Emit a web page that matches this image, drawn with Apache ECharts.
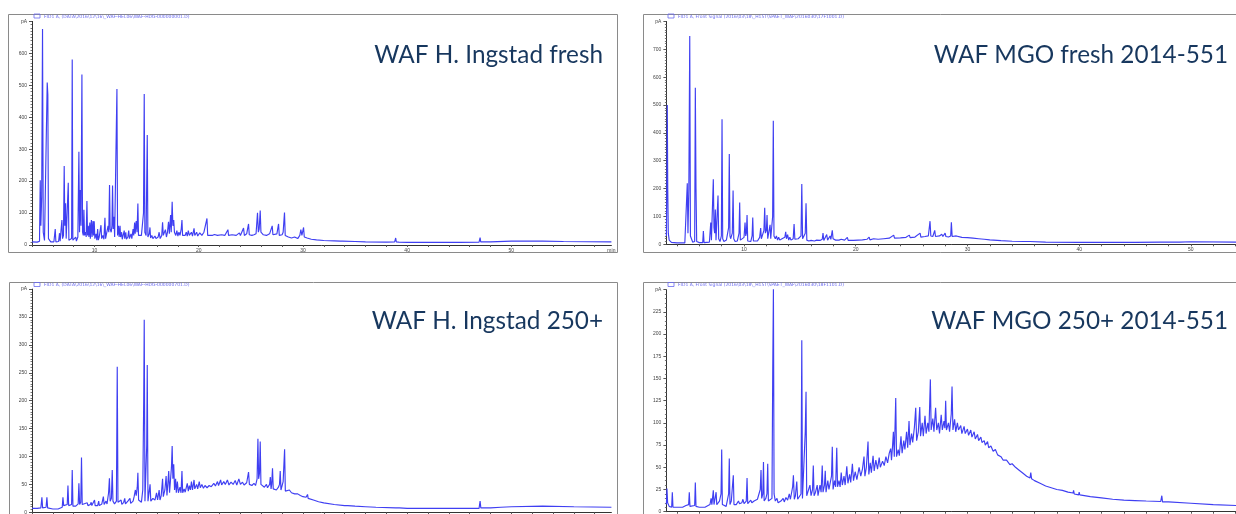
<!DOCTYPE html>
<html><head><meta charset="utf-8">
<script src="https://cdn.jsdelivr.net/npm/echarts@6/dist/echarts.min.js"></script>
<style>html,body{margin:0;padding:0;background:#fff}#c{width:1236px;height:514px}</style>
</head><body><div id="c"></div>
<script>
const titles = ['WAF H. Ingstad fresh','WAF MGO fresh 2014-551','WAF H. Ingstad 250+','WAF MGO 250+ 2014-551'];
const legends = [
  'FID1 A, (DATA\\2016\\12\\16\\_WAF-HEL06\\WAF-HDG-000000001.D)',
  'FID1 A, Front Signal (2016\\03\\18\\_H15T\\SPAET_WAF\\2016030\\17F1001.D)',
  'FID1 A, (DATA\\2016\\12\\16\\_WAF-HEL06\\WAF-HDG-000000701.D)',
  'FID1 A, Front Signal (2016\\03\\18\\_H15T\\SPAET_WAF\\2016030\\18F1101.D)'
];
const xLabelValues = [10,20,30,40,50];
const xTickValues = [4,6,8,10,12,14,16,18,20,22,24,26,28,30,32,34,36,38,40,42,44,46,48,50,52,54,56,58];
const xRanges = [[4,59.6],[3.05,54.04],[4,59.6],[3.05,54.04]];
const yMaxes = [700,800,400,250];
const yIntervals = [100,100,50,25];

const p1 = [[4.0,10],[4.5,9],[4.72,12],[4.79,203],[4.85,60],[4.93,150],[5.01,676],[5.08,40],[5.2,14],[5.38,20],[5.46,509],[5.52,470],[5.58,20],[5.8,10],[6.1,10],[6.17,12],[6.23,50],[6.29,10],[6.55,11],[6.64,37],[6.7,12],[6.8,16],[6.87,78],[6.93,20],[7.02,30],[7.09,247],[7.15,60],[7.22,131],[7.28,20],[7.4,25],[7.48,195],[7.54,15],[7.7,12],[7.8,20],[7.86,581],[7.92,15],[8.1,14],[8.2,25],[8.26,12],[8.4,25],[8.5,292],[8.56,40],[8.63,172],[8.7,60],[8.79,534],[8.85,40],[8.92,30],[8.98,110],[9.04,30],[9.15,40],[9.2,25],[9.27,138],[9.33,30],[9.4,60],[9.46,25],[9.55,70],[9.6,20],[9.7,78],[9.76,25],[9.85,75],[9.9,30],[9.97,74],[10.03,20],[10.15,35],[10.22,15],[10.3,50],[10.36,15],[10.45,25],[10.55,20],[10.62,62],[10.68,20],[10.8,30],[10.9,18],[11.0,85],[11.06,20],[11.15,35],[11.22,30],[11.3,60],[11.37,40],[11.44,188],[11.5,50],[11.6,40],[11.67,60],[11.73,186],[11.79,50],[11.87,88],[11.93,25],[12.03,30],[12.15,488],[12.21,30],[12.3,60],[12.36,25],[12.45,60],[12.5,25],[12.6,40],[12.66,18],[12.75,20],[12.85,45],[12.9,20],[13.0,40],[13.06,18],[13.2,25],[13.28,45],[13.35,20],[13.5,35],[13.58,20],[13.7,50],[13.76,30],[13.85,70],[13.9,35],[14.0,75],[14.08,40],[14.16,130],[14.22,30],[14.35,25],[14.5,30],[14.62,25],[14.7,100],[14.77,473],[14.83,40],[14.95,30],[15.06,344],[15.12,25],[15.25,35],[15.32,55],[15.38,22],[15.5,30],[15.6,20],[15.8,28],[15.9,20],[16.1,25],[16.2,40],[16.3,20],[16.45,30],[16.53,71],[16.6,30],[16.7,25],[16.8,48],[16.9,25],[17.0,40],[17.1,73],[17.18,35],[17.3,94],[17.36,40],[17.45,135],[17.52,60],[17.6,78],[17.67,40],[17.8,30],[17.9,45],[18.0,28],[18.1,40],[18.2,30],[18.32,50],[18.39,78],[18.45,30],[18.6,35],[18.7,30],[18.8,40],[18.9,28],[19.0,45],[19.1,30],[19.3,40],[19.4,28],[19.55,52],[19.62,30],[19.8,40],[19.9,28],[20.1,38],[20.3,30],[20.5,40],[20.6,45],[20.79,83],[20.86,30],[21.0,35],[21.3,30],[21.5,33],[21.8,30],[22.2,32],[22.5,30],[22.8,48],[22.86,30],[23.2,32],[23.6,30],[23.9,38],[24.0,30],[24.3,53],[24.38,30],[24.6,35],[24.78,66],[24.85,32],[25.1,30],[25.3,32],[25.5,35],[25.64,101],[25.72,40],[25.8,50],[25.9,108],[25.97,40],[26.2,32],[26.5,30],[26.8,35],[27.05,60],[27.12,32],[27.3,30],[27.5,35],[27.66,66],[27.73,30],[28.0,32],[28.1,40],[28.23,102],[28.3,30],[28.6,25],[28.9,22],[29.2,25],[29.5,20],[29.7,30],[29.8,48],[29.9,30],[30.06,55],[30.13,25],[30.4,22],[30.8,18],[31.3,16],[32.0,14],[33.0,13],[33.6,12],[33.7,15],[33.8,12],[35.0,11],[36.0,10],[38.0,9],[38.8,10],[38.9,22],[38.96,10],[39.2,9],[39.3,14],[39.36,9],[40,8],[45,8],[46.9,9],[47.0,23],[47.06,10],[48,10],[50,12],[53,12],[55,11],[59.6,10]];

const p2 = [[3.05,30],[3.09,210],[3.13,500],[3.17,200],[3.22,40],[3.3,15],[3.5,7],[4.0,5],[4.7,5],[4.85,10],[4.92,219],[4.98,40],[5.06,200],[5.14,748],[5.2,30],[5.4,8],[5.58,10],[5.64,562],[5.7,200],[5.76,10],[6.0,6],[6.3,6],[6.36,48],[6.42,6],[6.9,8],[6.96,15],[7.02,78],[7.08,15],[7.19,20],[7.25,233],[7.31,60],[7.37,40],[7.43,125],[7.49,15],[7.6,20],[7.67,175],[7.73,20],[7.85,10],[7.97,30],[8.03,449],[8.09,20],[8.2,10],[8.3,8],[8.42,15],[8.48,20],[8.56,15],[8.62,60],[8.68,324],[8.74,30],[8.8,20],[8.95,40],[9.02,193],[9.08,20],[9.2,10],[9.3,12],[9.4,12],[9.5,30],[9.55,40],[9.61,150],[9.67,15],[9.8,10],[10.0,25],[10.09,78],[10.15,30],[10.21,40],[10.27,105],[10.33,12],[10.5,10],[10.6,10],[10.72,30],[10.78,96],[10.84,12],[11.0,14],[11.2,12],[11.4,25],[11.49,58],[11.55,20],[11.65,20],[11.78,50],[11.85,131],[11.91,40],[12.0,50],[12.06,105],[12.12,20],[12.27,25],[12.33,70],[12.39,20],[12.5,20],[12.56,100],[12.62,443],[12.68,30],[12.8,20],[12.9,30],[13.0,15],[13.1,25],[13.2,15],[13.4,20],[13.5,15],[13.65,25],[13.73,45],[13.8,20],[13.9,35],[14.0,15],[14.1,25],[14.2,15],[14.4,20],[14.48,73],[14.55,18],[14.7,15],[14.85,20],[14.95,15],[15.1,30],[15.17,216],[15.24,20],[15.4,20],[15.48,40],[15.55,147],[15.62,15],[15.8,12],[16.0,14],[16.3,12],[16.5,15],[16.6,12],[16.8,14],[17.0,18],[17.07,40],[17.14,14],[17.3,20],[17.4,35],[17.48,15],[17.6,18],[17.7,30],[17.77,18],[17.9,50],[17.97,20],[18.1,25],[18.2,15],[18.5,15],[18.7,18],[18.8,14],[19.0,15],[19.25,25],[19.32,14],[19.8,14],[20.2,15],[20.6,16],[21.0,18],[21.2,26],[21.27,16],[21.6,20],[22.0,18],[22.5,20],[23.0,22],[23.4,33],[23.47,22],[24.0,23],[24.5,25],[24.8,33],[24.87,24],[25.3,26],[25.76,40],[25.83,26],[26.2,28],[26.5,30],[26.65,83],[26.72,30],[26.9,28],[27.07,50],[27.14,28],[27.5,30],[27.7,36],[27.8,28],[28.0,40],[28.07,28],[28.3,26],[28.5,30],[28.56,79],[28.63,28],[28.8,26],[29.0,30],[29.1,25],[29.5,25],[30.0,24],[30.5,22],[31.0,20],[31.5,18],[32.0,16],[33.0,13],[34.0,11],[35.0,10],[35.6,10],[35.7,14],[35.76,10],[37.0,8],[40.0,7],[45.0,7],[47.3,8],[47.4,15],[47.46,8],[49.0,8],[50.0,9],[54.04,8]];

const p3 = [[4.0,7],[4.5,7],[4.85,8],[4.95,27],[5.02,8],[5.2,8],[5.35,9],[5.43,27],[5.5,8],[6.0,6],[6.5,6],[6.9,9],[6.97,27],[7.04,12],[7.15,12],[7.38,14],[7.45,48],[7.52,12],[7.6,11],[7.8,14],[7.86,76],[7.93,11],[8.2,11],[8.43,15],[8.5,52],[8.57,14],[8.68,18],[8.75,98],[8.82,14],[9.0,12],[9.3,17],[9.37,12],[9.6,14],[9.68,18],[9.74,12],[10.0,22],[10.06,12],[10.3,12],[10.4,20],[10.46,12],[10.7,15],[10.85,28],[10.92,14],[11.1,20],[11.2,15],[11.35,35],[11.43,61],[11.5,20],[11.62,25],[11.7,76],[11.77,20],[11.92,15],[12.1,20],[12.18,261],[12.25,18],[12.4,15],[12.55,22],[12.62,14],[12.8,18],[12.9,25],[12.97,15],[13.2,20],[13.4,25],[13.47,16],[13.7,20],[13.8,28],[13.92,40],[14.0,30],[14.1,45],[14.16,71],[14.23,22],[14.4,20],[14.5,18],[14.63,40],[14.72,200],[14.77,345],[14.84,20],[14.95,22],[15.01,120],[15.06,264],[15.13,20],[15.25,22],[15.33,50],[15.4,20],[15.6,25],[15.7,28],[15.8,22],[15.95,35],[16.05,22],[16.2,40],[16.28,22],[16.4,30],[16.53,60],[16.6,28],[16.75,40],[16.87,65],[16.95,30],[17.05,55],[17.12,74],[17.2,35],[17.3,60],[17.38,80],[17.45,119],[17.52,60],[17.6,86],[17.68,40],[17.78,60],[17.85,35],[17.95,55],[18.05,35],[18.2,45],[18.3,35],[18.39,74],[18.46,35],[18.6,42],[18.7,36],[18.9,52],[19.0,38],[19.1,48],[19.2,40],[19.3,55],[19.4,40],[19.55,58],[19.62,42],[19.8,50],[19.9,42],[20.05,55],[20.15,44],[20.3,50],[20.45,43],[20.6,48],[20.8,44],[21.0,48],[21.2,46],[21.45,52],[21.6,47],[21.8,55],[21.9,48],[22.1,58],[22.2,49],[22.4,55],[22.55,50],[22.75,58],[22.9,49],[23.1,54],[23.3,50],[23.5,57],[23.65,49],[23.85,60],[24.0,50],[24.2,54],[24.35,49],[24.6,53],[24.78,72],[24.86,50],[25.1,48],[25.3,52],[25.45,48],[25.6,60],[25.68,132],[25.75,60],[25.83,70],[25.9,127],[25.97,50],[26.1,48],[26.3,45],[26.5,50],[26.6,44],[26.8,50],[26.87,63],[26.94,42],[27.0,50],[27.08,79],[27.15,42],[27.3,45],[27.45,40],[27.65,45],[27.75,50],[27.82,74],[27.89,40],[28.0,42],[28.1,55],[28.24,113],[28.31,38],[28.5,37],[28.7,40],[28.9,35],[29.05,38],[29.2,33],[29.5,33],[29.75,30],[30.0,28],[30.3,27],[30.44,32],[30.5,25],[31.0,22],[31.5,19],[32.0,17],[33.0,14],[34.0,12],[34.3,12],[34.4,15],[34.46,12],[35,11],[36,10],[37,9],[38.9,8],[39.0,11],[39.06,8],[39.25,8],[39.3,10],[39.36,8],[40,7],[43,7],[46.9,7],[47.0,20],[47.07,8],[48,8],[49,9],[50,10],[53,11],[56,10],[59.6,9]];

const p4 = [[3.05,8],[3.1,26],[3.16,10],[3.3,6],[3.52,5],[3.58,22],[3.64,5],[4.2,5],[4.5,5],[4.8,7],[4.9,7],[5.04,8],[5.1,22],[5.16,6],[5.3,6],[5.58,7],[5.64,33],[5.7,6],[6.0,5],[6.5,5],[6.95,8],[7.05,15],[7.12,8],[7.2,10],[7.25,24],[7.31,8],[7.45,10],[7.5,22],[7.56,8],[7.7,8],[7.8,12],[7.94,20],[8.0,70],[8.06,8],[8.2,7],[8.4,6],[8.62,20],[8.68,60],[8.74,8],[8.86,12],[8.98,10],[9.04,41],[9.1,8],[9.3,8],[9.5,12],[9.6,9],[9.8,10],[9.9,14],[10.0,9],[10.2,12],[10.27,38],[10.33,9],[10.5,10],[10.6,13],[10.7,10],[10.9,12],[11.0,10],[11.2,14],[11.3,12],[11.45,25],[11.52,47],[11.58,15],[11.68,20],[11.74,56],[11.8,12],[11.95,15],[12.05,20],[12.12,54],[12.18,12],[12.35,12],[12.5,15],[12.57,160],[12.63,252],[12.69,20],[12.8,12],[12.95,15],[13.05,10],[13.3,12],[13.5,15],[13.6,11],[13.75,16],[13.9,13],[14.05,20],[14.15,14],[14.35,28],[14.42,41],[14.5,14],[14.6,18],[14.72,34],[14.8,14],[14.95,15],[15.1,20],[15.17,193],[15.23,15],[15.35,15],[15.48,90],[15.55,135],[15.61,18],[15.75,20],[15.9,30],[16.0,18],[16.13,25],[16.2,52],[16.27,18],[16.4,22],[16.55,30],[16.62,18],[16.8,30],[16.9,22],[17.0,52],[17.07,22],[17.2,30],[17.27,46],[17.34,22],[17.5,35],[17.6,25],[17.83,40],[17.9,73],[17.97,25],[18.1,35],[18.2,28],[18.3,72],[18.37,28],[18.5,35],[18.6,28],[18.7,44],[18.8,30],[18.95,40],[19.05,30],[19.2,51],[19.3,32],[19.45,42],[19.55,33],[19.7,54],[19.8,35],[19.95,45],[20.1,36],[20.3,50],[20.45,40],[20.6,48],[20.74,62],[20.82,40],[20.95,50],[21.1,79],[21.17,42],[21.3,55],[21.4,44],[21.55,63],[21.65,46],[21.8,58],[21.95,48],[22.1,61],[22.2,50],[22.4,57],[22.55,52],[22.7,62],[22.85,55],[23.0,66],[23.13,71],[23.2,58],[23.3,75],[23.37,90],[23.45,62],[23.58,128],[23.65,62],[23.8,70],[23.9,63],[24.05,85],[24.15,66],[24.3,80],[24.4,70],[24.55,90],[24.65,72],[24.77,102],[24.85,75],[25.0,88],[25.1,78],[25.25,95],[25.37,117],[25.45,80],[25.6,90],[25.73,118],[25.8,85],[25.95,100],[26.05,85],[26.2,108],[26.3,88],[26.45,100],[26.55,90],[26.68,149],[26.75,92],[26.9,105],[27.0,90],[27.15,117],[27.25,92],[27.4,100],[27.5,88],[27.65,109],[27.75,92],[27.9,102],[27.98,94],[28.05,125],[28.12,92],[28.3,100],[28.4,90],[28.55,110],[28.62,141],[28.7,92],[28.85,104],[28.95,90],[29.1,100],[29.2,92],[29.4,97],[29.5,88],[29.7,96],[29.8,88],[30.0,93],[30.1,86],[30.3,92],[30.4,84],[30.6,90],[30.7,82],[30.9,87],[31.0,80],[31.2,84],[31.3,78],[31.5,80],[31.6,75],[31.8,79],[31.9,72],[32.1,74],[32.3,68],[32.5,70],[32.7,64],[33.0,62],[33.2,58],[33.5,58],[33.8,53],[34.0,54],[34.3,50],[34.6,47],[35.0,43],[35.3,40],[35.6,38],[35.67,44],[35.74,37],[36.0,35],[36.5,32],[37.0,29],[37.5,27],[38.0,25],[38.5,24],[39.0,22],[39.45,21],[39.5,24],[39.56,20],[39.95,19],[40.0,22],[40.06,19],[41.0,17],[42.0,15.5],[43.0,14],[44.0,13],[45.0,12.5],[46,12],[47.3,11.5],[47.4,18],[47.46,11],[48,11],[50,9.5],[52,8],[54.04,7]];

const seriesData = [p1,p2,p3,p4];

const grids = [
  {left:32, top:21.4, width:579.4, height:223.6},
  {left:666.4, top:21.4, width:569.6, height:222.9},
  {left:32, top:289.1, width:579.4, height:223.2},
  {left:666.4, top:289.7, width:569.6, height:222}
];
const minorSplits = [10,10,10,5];
const titlePos = [[603,55],[1228,55],[603,321],[1228,321]];
const legendPos = [[44,16.5],[678,16.5],[44,285],[678,285]];
const frames = [[8.5,14.5,609,238],[643.5,14.5,620,238],[9.5,282.5,608,240],[643.5,282.5,620,240]];

const option = {
  animation:false,
  backgroundColor:'#fff',
  grid: grids.map(g => Object.assign({outerBoundsMode:'none', containLabel:false}, g)),
  xAxis: grids.map((g,i) => {
    const lab = xLabelValues.slice();
    if (i===0) lab.push(xRanges[i][1]);
    return {
      type:'value', gridIndex:i, min:xRanges[i][0], max:xRanges[i][1],
      axisLine:{show:true, onZero:false, lineStyle:{color:'#333', width:1}},
      axisTick:{show:true, customValues:xTickValues.filter(v=>v>=xRanges[i][0]&&v<=xRanges[i][1]), length:2, lineStyle:{color:'#555'}},
      axisLabel:{show:true, customValues:lab, fontSize:5, color:'#444', margin:3,
        formatter:(v)=> (Math.abs(v-xRanges[i][1])<1e-6 ? 'min' : String(v))},
      splitLine:{show:false}
    };
  }),
  yAxis: grids.map((g,i) => ({
    type:'value', gridIndex:i, min:0, max:yMaxes[i], interval:yIntervals[i],
    axisLine:{show:true, lineStyle:{color:'#333', width:1}},
    axisTick:{show:true, length:3, lineStyle:{color:'#555'}},
    minorTick:{show:true, splitNumber:minorSplits[i], length:1.5, lineStyle:{color:'#777'}},
    axisLabel:{fontSize:5, color:'#444', margin:5, formatter:(v)=> v===yMaxes[i] ? 'pA' : String(v)},
    splitLine:{show:false}
  })),
  series: seriesData.map((d,i) => ({
    type:'line', xAxisIndex:i, yAxisIndex:i, data:d, showSymbol:false, symbol:'none',
    sampling:null, clip:true,
    lineStyle:{color:'#3f3ff2', width:1.15}
  })),
  graphic: [].concat(
    frames.map(f => ({type:'rect', silent:true, z:0, shape:{x:f[0],y:f[1],width:f[2],height:f[3]},
      style:{fill:'none', stroke:'#8a8a8a', lineWidth:1}})),
    legendPos.map((p,i) => ({type:'group', children:[
      {type:'rect', shape:{x:p[0]-10, y:p[1]-2.5, width:6, height:4}, style:{fill:'none', stroke:'#6a6af0', lineWidth:0.8}},
      {type:'text', x:p[0], y:p[1], style:{text:legends[i], fill:'#6a6af0', font:'4.5px "DejaVu Sans"', textVerticalAlign:'middle'}}
    ]})),
    titlePos.map((p,i) => ({type:'text', z:100, x:p[0], y:p[1],
      style:{text:titles[i], fill:'#17375e', font:'24.3px Lato', textAlign:'right', textVerticalAlign:'middle'}}))
  )
};
const chart = echarts.init(document.getElementById('c'), null, {renderer:'canvas'});
chart.setOption(option);
</script></body></html>
